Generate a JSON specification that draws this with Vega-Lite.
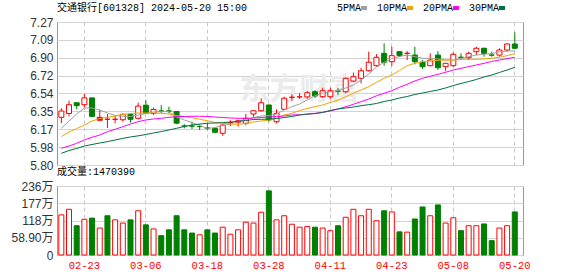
{
  "$schema": "https://vega.github.io/schema/vega-lite/v6.json",
  "background": "white",
  "padding": {"left": 10, "top": 3, "right": 5, "bottom": 3},
  "bounds": "flush",
  "spacing": 21,
  "config": {
    "view": {"stroke": "#999999"},
    "axis": {"domain": false, "ticks": false, "tickSize": 0, "labelFont": "Liberation Sans, Noto Sans CJK SC", "labelFontSize": 12, "labelColor": "#333333", "gridColor": "#d3d3d3", "labelOverlap": false, "labelFlush": false},
    "legend": {"orient": "none", "legendX": 302, "legendY": -19, "direction": "horizontal", "title": null, "symbolType": "stroke", "symbolSize": 36, "symbolStrokeWidth": 4, "labelFont": "Liberation Mono", "labelFontSize": 10, "labelColor": "#000000", "columnPadding": 1, "labelAlign": "right", "labelOffset": -8}
  },
  "title": {"text": "交通银行[601328] 2024-05-20 15:00", "anchor": "start", "frame": "group", "font": "Liberation Mono, Noto Sans CJK SC", "fontSize": 10, "fontWeight": "normal", "color": "#000000", "offset": 0, "dy": 10},
  "datasets": {
    "k": [
      {"d": "02-20", "o": 6.29, "h": 6.385, "l": 6.23, "c": 6.355, "k": "涨", "v": 1370000, "vk": "涨", "5PMA": 6.177, "10PMA": 6.093, "20PMA": 5.972, "30PMA": 5.92},
      {"d": "02-21", "o": 6.33, "h": 6.46, "l": 6.30, "c": 6.42, "k": "涨", "v": 1560000, "vk": "涨", "5PMA": 6.252, "10PMA": 6.139, "20PMA": 5.995, "30PMA": 5.949},
      {"d": "02-22", "o": 6.44, "h": 6.44, "l": 6.375, "c": 6.41, "k": "跌", "v": 1000000, "vk": "跌", "5PMA": 6.324, "10PMA": 6.175, "20PMA": 6.023, "30PMA": 5.97},
      {"d": "02-23", "o": 6.42, "h": 6.53, "l": 6.395, "c": 6.49, "k": "涨", "v": 1220000, "vk": "涨", "5PMA": 6.386, "10PMA": 6.211, "20PMA": 6.057, "30PMA": 5.995},
      {"d": "02-26", "o": 6.49, "h": 6.49, "l": 6.29, "c": 6.30, "k": "跌", "v": 1260000, "vk": "跌", "5PMA": 6.386, "10PMA": 6.252, "20PMA": 6.085, "30PMA": 6.011},
      {"d": "02-27", "o": 6.29, "h": 6.365, "l": 6.26, "c": 6.26, "k": "涨", "v": 920000, "vk": "涨", "5PMA": 6.365, "10PMA": 6.278, "20PMA": 6.108, "30PMA": 6.026},
      {"d": "02-28", "o": 6.27, "h": 6.324, "l": 6.18, "c": 6.27, "k": "涨", "v": 1340000, "vk": "跌", "5PMA": 6.335, "10PMA": 6.29, "20PMA": 6.142, "30PMA": 6.04},
      {"d": "02-29", "o": 6.27, "h": 6.307, "l": 6.229, "c": 6.27, "k": "涨", "v": 1200000, "vk": "涨", "5PMA": 6.309, "10PMA": 6.304, "20PMA": 6.167, "30PMA": 6.057},
      {"d": "03-01", "o": 6.265, "h": 6.33, "l": 6.245, "c": 6.32, "k": "涨", "v": 1090000, "vk": "涨", "5PMA": 6.299, "10PMA": 6.319, "20PMA": 6.194, "30PMA": 6.074},
      {"d": "03-04", "o": 6.32, "h": 6.33, "l": 6.235, "c": 6.27, "k": "跌", "v": 1200000, "vk": "跌", "5PMA": 6.299, "10PMA": 6.329, "20PMA": 6.221, "30PMA": 6.088},
      {"d": "03-05", "o": 6.28, "h": 6.44, "l": 6.27, "c": 6.405, "k": "涨", "v": 1510000, "vk": "涨", "5PMA": 6.314, "10PMA": 6.335, "20PMA": 6.245, "30PMA": 6.10},
      {"d": "03-06", "o": 6.415, "h": 6.465, "l": 6.325, "c": 6.33, "k": "跌", "v": 1030000, "vk": "跌", "5PMA": 6.329, "10PMA": 6.335, "20PMA": 6.263, "30PMA": 6.114},
      {"d": "03-07", "o": 6.33, "h": 6.39, "l": 6.315, "c": 6.37, "k": "涨", "v": 890000, "vk": "涨", "5PMA": 6.345, "10PMA": 6.335, "20PMA": 6.273, "30PMA": 6.129},
      {"d": "03-08", "o": 6.355, "h": 6.415, "l": 6.335, "c": 6.355, "k": "跌", "v": 660000, "vk": "跌", "5PMA": 6.348, "10PMA": 6.331, "20PMA": 6.28, "30PMA": 6.144},
      {"d": "03-11", "o": 6.355, "h": 6.40, "l": 6.33, "c": 6.355, "k": "跌", "v": 860000, "vk": "跌", "5PMA": 6.348, "10PMA": 6.324, "20PMA": 6.29, "30PMA": 6.16},
      {"d": "03-12", "o": 6.35, "h": 6.355, "l": 6.22, "c": 6.23, "k": "跌", "v": 1340000, "vk": "跌", "5PMA": 6.293, "10PMA": 6.309, "20PMA": 6.297, "30PMA": 6.177},
      {"d": "03-13", "o": 6.20, "h": 6.22, "l": 6.177, "c": 6.20, "k": "跌", "v": 860000, "vk": "跌", "5PMA": 6.263, "10PMA": 6.299, "20PMA": 6.299, "30PMA": 6.196},
      {"d": "03-14", "o": 6.20, "h": 6.245, "l": 6.17, "c": 6.20, "k": "跌", "v": 750000, "vk": "跌", "5PMA": 6.237, "10PMA": 6.288, "20PMA": 6.301, "30PMA": 6.211},
      {"d": "03-15", "o": 6.195, "h": 6.22, "l": 6.16, "c": 6.195, "k": "跌", "v": 690000, "vk": "涨", "5PMA": 6.206, "10PMA": 6.27, "20PMA": 6.301, "30PMA": 6.221},
      {"d": "03-18", "o": 6.18, "h": 6.229, "l": 6.16, "c": 6.18, "k": "跌", "v": 860000, "vk": "跌", "5PMA": 6.177, "10PMA": 6.255, "20PMA": 6.299, "30PMA": 6.229},
      {"d": "03-19", "o": 6.177, "h": 6.18, "l": 6.126, "c": 6.136, "k": "跌", "v": 750000, "vk": "跌", "5PMA": 6.185, "10PMA": 6.237, "20PMA": 6.293, "30PMA": 6.232},
      {"d": "03-20", "o": 6.126, "h": 6.22, "l": 6.10, "c": 6.21, "k": "涨", "v": 950000, "vk": "涨", "5PMA": 6.206, "10PMA": 6.229, "20PMA": 6.288, "30PMA": 6.235},
      {"d": "03-21", "o": 6.235, "h": 6.26, "l": 6.20, "c": 6.235, "k": "涨", "v": 710000, "vk": "涨", "5PMA": 6.221, "10PMA": 6.221, "20PMA": 6.283, "30PMA": 6.242},
      {"d": "03-22", "o": 6.24, "h": 6.265, "l": 6.195, "c": 6.255, "k": "涨", "v": 860000, "vk": "涨", "5PMA": 6.247, "10PMA": 6.218, "20PMA": 6.28, "30PMA": 6.249},
      {"d": "03-25", "o": 6.229, "h": 6.324, "l": 6.21, "c": 6.28, "k": "涨", "v": 1120000, "vk": "涨", "5PMA": 6.268, "10PMA": 6.227, "20PMA": 6.28, "30PMA": 6.257},
      {"d": "03-26", "o": 6.324, "h": 6.36, "l": 6.296, "c": 6.358, "k": "涨", "v": 1090000, "vk": "涨", "5PMA": 6.288, "10PMA": 6.242, "20PMA": 6.283, "30PMA": 6.268},
      {"d": "03-27", "o": 6.358, "h": 6.486, "l": 6.348, "c": 6.44, "k": "涨", "v": 1460000, "vk": "涨", "5PMA": 6.304, "10PMA": 6.252, "20PMA": 6.288, "30PMA": 6.27},
      {"d": "03-28", "o": 6.417, "h": 6.42, "l": 6.245, "c": 6.263, "k": "跌", "v": 2190000, "vk": "跌", "5PMA": 6.309, "10PMA": 6.263, "20PMA": 6.293, "30PMA": 6.271},
      {"d": "03-29", "o": 6.245, "h": 6.373, "l": 6.229, "c": 6.331, "k": "涨", "v": 1200000, "vk": "涨", "5PMA": 6.324, "10PMA": 6.28, "20PMA": 6.299, "30PMA": 6.278},
      {"d": "04-01", "o": 6.373, "h": 6.502, "l": 6.365, "c": 6.486, "k": "涨", "v": 1340000, "vk": "涨", "5PMA": 6.365, "10PMA": 6.314, "20PMA": 6.304, "30PMA": 6.288},
      {"d": "04-02", "o": 6.496, "h": 6.527, "l": 6.46, "c": 6.496, "k": "涨", "v": 1050000, "vk": "涨", "5PMA": 6.399, "10PMA": 6.331, "20PMA": 6.314, "30PMA": 6.299},
      {"d": "04-03", "o": 6.50, "h": 6.537, "l": 6.48, "c": 6.50, "k": "涨", "v": 950000, "vk": "涨", "5PMA": 6.427, "10PMA": 6.36, "20PMA": 6.317, "30PMA": 6.314},
      {"d": "04-08", "o": 6.50, "h": 6.56, "l": 6.48, "c": 6.543, "k": "涨", "v": 970000, "vk": "涨", "5PMA": 6.468, "10PMA": 6.381, "20PMA": 6.321, "30PMA": 6.324},
      {"d": "04-09", "o": 6.553, "h": 6.57, "l": 6.49, "c": 6.509, "k": "跌", "v": 950000, "vk": "跌", "5PMA": 6.512, "10PMA": 6.399, "20PMA": 6.331, "30PMA": 6.329},
      {"d": "04-10", "o": 6.502, "h": 6.595, "l": 6.49, "c": 6.564, "k": "涨", "v": 920000, "vk": "涨", "5PMA": 6.537, "10PMA": 6.417, "20PMA": 6.342, "30PMA": 6.34},
      {"d": "04-11", "o": 6.502, "h": 6.595, "l": 6.48, "c": 6.564, "k": "涨", "v": 830000, "vk": "涨", "5PMA": 6.554, "10PMA": 6.442, "20PMA": 6.355, "30PMA": 6.36},
      {"d": "04-12", "o": 6.56, "h": 6.59, "l": 6.52, "c": 6.56, "k": "跌", "v": 1000000, "vk": "跌", "5PMA": 6.566, "10PMA": 6.468, "20PMA": 6.376, "30PMA": 6.376},
      {"d": "04-15", "o": 6.553, "h": 6.70, "l": 6.537, "c": 6.691, "k": "涨", "v": 1290000, "vk": "涨", "5PMA": 6.592, "10PMA": 6.502, "20PMA": 6.399, "30PMA": 6.386},
      {"d": "04-16", "o": 6.663, "h": 6.75, "l": 6.65, "c": 6.708, "k": "涨", "v": 1560000, "vk": "涨", "5PMA": 6.622, "10PMA": 6.537, "20PMA": 6.424, "30PMA": 6.396},
      {"d": "04-17", "o": 6.691, "h": 6.80, "l": 6.64, "c": 6.769, "k": "涨", "v": 1340000, "vk": "涨", "5PMA": 6.674, "10PMA": 6.571, "20PMA": 6.451, "30PMA": 6.41},
      {"d": "04-18", "o": 6.769, "h": 6.965, "l": 6.759, "c": 6.856, "k": "涨", "v": 1560000, "vk": "涨", "5PMA": 6.735, "10PMA": 6.605, "20PMA": 6.478, "30PMA": 6.42},
      {"d": "04-19", "o": 6.821, "h": 6.94, "l": 6.81, "c": 6.907, "k": "涨", "v": 1170000, "vk": "涨", "5PMA": 6.807, "10PMA": 6.65, "20PMA": 6.512, "30PMA": 6.432},
      {"d": "04-22", "o": 6.948, "h": 7.05, "l": 6.82, "c": 6.856, "k": "跌", "v": 1510000, "vk": "跌", "5PMA": 6.856, "10PMA": 6.691, "20PMA": 6.537, "30PMA": 6.453},
      {"d": "04-23", "o": 6.862, "h": 7.016, "l": 6.82, "c": 6.924, "k": "涨", "v": 1470000, "vk": "涨", "5PMA": 6.895, "10PMA": 6.725, "20PMA": 6.564, "30PMA": 6.468},
      {"d": "04-24", "o": 6.965, "h": 6.97, "l": 6.91, "c": 6.924, "k": "跌", "v": 790000, "vk": "跌", "5PMA": 6.915, "10PMA": 6.771, "20PMA": 6.599, "30PMA": 6.489},
      {"d": "04-25", "o": 6.948, "h": 6.97, "l": 6.88, "c": 6.948, "k": "涨", "v": 780000, "vk": "涨", "5PMA": 6.931, "10PMA": 6.821, "20PMA": 6.63, "30PMA": 6.504},
      {"d": "04-26", "o": 6.93, "h": 7.016, "l": 6.835, "c": 6.862, "k": "跌", "v": 1230000, "vk": "跌", "5PMA": 6.913, "10PMA": 6.845, "20PMA": 6.664, "30PMA": 6.525},
      {"d": "04-29", "o": 6.856, "h": 6.879, "l": 6.787, "c": 6.81, "k": "跌", "v": 1640000, "vk": "跌", "5PMA": 6.897, "10PMA": 6.862, "20PMA": 6.691, "30PMA": 6.54},
      {"d": "04-30", "o": 6.821, "h": 6.948, "l": 6.815, "c": 6.879, "k": "涨", "v": 1340000, "vk": "涨", "5PMA": 6.895, "10PMA": 6.869, "20PMA": 6.712, "30PMA": 6.556},
      {"d": "05-06", "o": 6.93, "h": 6.97, "l": 6.777, "c": 6.80, "k": "跌", "v": 1710000, "vk": "跌", "5PMA": 6.89, "10PMA": 6.876, "20PMA": 6.732, "30PMA": 6.571},
      {"d": "05-07", "o": 6.81, "h": 6.845, "l": 6.765, "c": 6.845, "k": "涨", "v": 1090000, "vk": "涨", "5PMA": 6.879, "10PMA": 6.879, "20PMA": 6.753, "30PMA": 6.592},
      {"d": "05-08", "o": 6.821, "h": 6.958, "l": 6.81, "c": 6.938, "k": "涨", "v": 1270000, "vk": "涨", "5PMA": 6.879, "10PMA": 6.879, "20PMA": 6.777, "30PMA": 6.617},
      {"d": "05-09", "o": 6.907, "h": 6.948, "l": 6.879, "c": 6.907, "k": "跌", "v": 830000, "vk": "跌", "5PMA": 6.895, "10PMA": 6.885, "20PMA": 6.794, "30PMA": 6.638},
      {"d": "05-10", "o": 6.903, "h": 6.965, "l": 6.879, "c": 6.948, "k": "涨", "v": 1000000, "vk": "涨", "5PMA": 6.913, "10PMA": 6.887, "20PMA": 6.811, "30PMA": 6.658},
      {"d": "05-13", "o": 6.965, "h": 7.016, "l": 6.93, "c": 7.0, "k": "涨", "v": 1000000, "vk": "涨", "5PMA": 6.931, "10PMA": 6.887, "20PMA": 6.828, "30PMA": 6.679},
      {"d": "05-14", "o": 7.0, "h": 7.006, "l": 6.913, "c": 6.948, "k": "跌", "v": 1060000, "vk": "跌", "5PMA": 6.938, "10PMA": 6.89, "20PMA": 6.845, "30PMA": 6.705},
      {"d": "05-15", "o": 6.93, "h": 6.965, "l": 6.913, "c": 6.93, "k": "跌", "v": 490000, "vk": "跌", "5PMA": 6.946, "10PMA": 6.897, "20PMA": 6.864, "30PMA": 6.725},
      {"d": "05-16", "o": 6.93, "h": 7.0, "l": 6.913, "c": 6.982, "k": "涨", "v": 920000, "vk": "涨", "5PMA": 6.962, "10PMA": 6.907, "20PMA": 6.879, "30PMA": 6.751},
      {"d": "05-17", "o": 6.982, "h": 7.05, "l": 6.965, "c": 7.044, "k": "涨", "v": 1000000, "vk": "涨", "5PMA": 6.972, "10PMA": 6.924, "20PMA": 6.893, "30PMA": 6.777},
      {"d": "05-20", "o": 7.044, "h": 7.164, "l": 6.99, "c": 7.0, "k": "跌", "v": 1470390, "vk": "跌", "5PMA": 6.972, "10PMA": 6.944, "20PMA": 6.907, "30PMA": 6.804}
    ]
  },
  "vconcat": [
    {
      "width": 466,
      "height": 143,
      "data": {"name": "k"},
      "encoding": {
        "x": {"field": "d", "type": "ordinal", "sort": null,
          "scale": {"type": "band", "paddingInner": 0, "paddingOuter": 0.316, "align": 0.1,
            "domain": ["02-20", "02-21", "02-22", "02-23", "02-26", "02-27", "02-28", "02-29", "03-01", "03-04", "03-05", "03-06", "03-07", "03-08", "03-11", "03-12", "03-13", "03-14", "03-15", "03-18", "03-19", "03-20", "03-21", "03-22", "03-25", "03-26", "03-27", "03-28", "03-29", "04-01", "04-02", "04-03", "04-08", "04-09", "04-10", "04-11", "04-12", "04-15", "04-16", "04-17", "04-18", "04-19", "04-22", "04-23", "04-24", "04-25", "04-26", "04-29", "04-30", "05-06", "05-07", "05-08", "05-09", "05-10", "05-13", "05-14", "05-15", "05-16", "05-17", "05-20"]},
          "axis": {"values": ["02-23", "03-06", "03-18", "03-28", "04-11", "04-23", "05-08", "05-20"], "labels": false, "grid": true, "gridDash": [4, 3], "gridColor": "#c8c8c8", "bandPosition": 0.5, "title": null}}
      },
      "layer": [
        {
          "transform": [{"filter": "datum.d == '04-03'"}],
          "mark": {"type": "text", "font": "Noto Sans CJK SC", "fontSize": 30, "fontWeight": "bold", "color": "#ebebeb", "align": "center", "baseline": "middle"},
          "encoding": {
            "y": {"datum": 6.57, "type": "quantitative", "scale": {"domain": [5.8, 7.27], "zero": false, "nice": false},
              "axis": {"values": [5.8, 5.98375, 6.1675, 6.35125, 6.535, 6.71875, 6.9025, 7.08625, 7.27], "labelExpr": "format(datum.value + 0.0001, '.2f')", "grid": true, "labelPadding": 4, "labelOverlap": false, "title": null}},
            "text": {"value": "东方财富"}
          }
        },
        {
          "mark": {"type": "rule", "strokeWidth": 1},
          "encoding": {
            "y": {"field": "l", "type": "quantitative",
              "axis": {"values": [5.8, 5.98375, 6.1675, 6.35125, 6.535, 6.71875, 6.9025, 7.08625, 7.27], "labelExpr": "format(datum.value + 0.0001, '.2f')", "grid": true, "labelPadding": 4, "labelOverlap": false, "title": null}},
            "y2": {"field": "h"},
            "stroke": {"field": "k", "type": "nominal", "scale": {"domain": ["涨", "跌"], "range": ["#ff0000", "#008000"]}, "legend": null}
          }
        },
        {
          "mark": {"type": "bar", "size": 5, "strokeWidth": 1},
          "encoding": {
            "y": {"field": "o", "type": "quantitative",
              "axis": {"values": [5.8, 5.98375, 6.1675, 6.35125, 6.535, 6.71875, 6.9025, 7.08625, 7.27], "labelExpr": "format(datum.value + 0.0001, '.2f')", "grid": true, "labelPadding": 4, "labelOverlap": false, "title": null}},
            "y2": {"field": "c"},
            "stroke": {"field": "k", "type": "nominal", "legend": null},
            "fill": {"condition": {"test": "datum.k == '涨' && datum.c > datum.o", "value": "#ffffff"}, "field": "k", "type": "nominal", "scale": {"domain": ["涨", "跌"], "range": ["#ff0000", "#008000"]}, "legend": null}
          }
        },
        {
          "transform": [{"fold": ["5PMA", "10PMA", "20PMA", "30PMA"], "as": ["ma", "val"]}],
          "mark": {"type": "line", "strokeWidth": 1},
          "encoding": {
            "y": {"field": "val", "type": "quantitative",
              "axis": {"values": [5.8, 5.98375, 6.1675, 6.35125, 6.535, 6.71875, 6.9025, 7.08625, 7.27], "labelExpr": "format(datum.value + 0.0001, '.2f')", "grid": true, "labelPadding": 4, "labelOverlap": false, "title": null}},
            "color": {"field": "ma", "type": "nominal", "sort": null,
              "scale": {"domain": ["5PMA", "10PMA", "20PMA", "30PMA"], "range": ["#a0a0a0", "#f4a300", "#ff00ff", "#007040"]},
              "legend": {}}
          }
        }
      ]
    },
    {
      "width": 466,
      "height": 69,
      "title": {"text": "成交量:1470390", "anchor": "start", "frame": "group", "font": "Liberation Mono, Noto Sans CJK SC", "fontSize": 10, "fontWeight": "normal", "color": "#000000", "offset": 3},
      "data": {"name": "k"},
      "mark": {"type": "bar", "size": 5, "strokeWidth": 1},
      "encoding": {
        "x": {"field": "d", "type": "ordinal", "sort": null,
          "scale": {"type": "band", "paddingInner": 0, "paddingOuter": 0.316, "align": 0.1},
          "axis": {"values": ["02-23", "03-06", "03-18", "03-28", "04-11", "04-23", "05-08", "05-20"], "grid": true, "gridDash": [4, 3], "gridColor": "#c8c8c8", "bandPosition": 0.5, "labelAngle": 0, "labelColor": "#ff0000", "labelFont": "Liberation Mono", "labelFontSize": 10.5, "labelPadding": 5, "title": null}},
        "y": {"field": "v", "type": "quantitative", "scale": {"domain": [0, 2356000], "nice": false},
          "axis": {"values": [0, 589000, 1178000, 1767000, 2356000], "labelExpr": "datum.value == 0 ? '0' : (datum.value < 1000000 ? format(datum.value / 10000, '.2f') + '万' : format(datum.value / 10000, '.0f') + '万')", "grid": true, "labelPadding": 4, "title": null}},
        "stroke": {"field": "vk", "type": "nominal", "scale": {"domain": ["涨", "跌"], "range": ["#ff0000", "#008000"]}, "legend": null},
        "fill": {"condition": {"test": "datum.vk == '涨'", "value": "#ffffff"}, "field": "vk", "type": "nominal", "scale": {"domain": ["涨", "跌"], "range": ["#ff0000", "#008000"]}, "legend": null}
      }
    }
  ]
}
